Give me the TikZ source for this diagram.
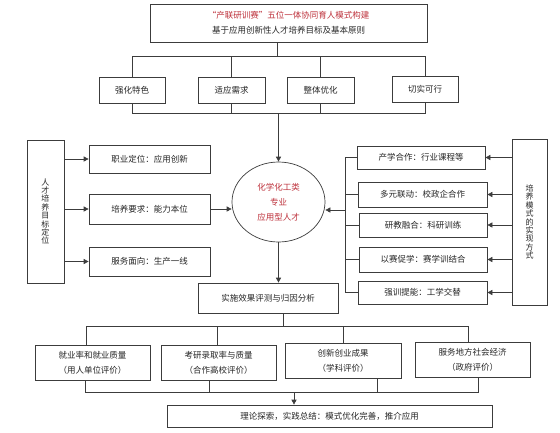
\documentclass[tikz,border=0pt]{standalone}
\usepackage{fontspec}
\setmainfont{Noto Sans CJK SC}
\usetikzlibrary{arrows.meta,shapes.geometric,calc}
\definecolor{ln}{RGB}{60,60,60}
\definecolor{redt}{RGB}{190,50,60}
\newcommand\myvtight{\lineskiplimit=-20pt\relax\lineskip=0pt\relax}
\begin{document}
\begin{tikzpicture}[x=1pt,y=-1pt,
  box/.style={draw=ln, line width=0.7pt, rectangle, inner sep=0pt, align=center, font=\fontsize{8.5}{15}\selectfont, text=black!85},
  vbox/.style={box, font=\fontsize{8}{8.4}\selectfont\myvtight},
  conn/.style={draw=ln, line width=0.7pt},
  arr/.style={conn, -{Triangle[length=5pt,width=5pt]}},
]
\useasboundingbox (0,0) rectangle (560,432);
\fill[white] (0,0) rectangle (560,432);

% top
\node[box, minimum width=277pt, minimum height=38pt] (top) at (288.5,23) {\textcolor{redt}{“产联研训赛”五位一体协同育人模式构建}\\基于应用创新性人才培养目标及基本原则};

% principles
\node[box, minimum width=66pt, minimum height=26pt] (p1) at (132,90) {强化特色};
\node[box, minimum width=67pt, minimum height=26pt] (p2) at (231.5,90) {适应需求};
\node[box, minimum width=67pt, minimum height=26pt] (p3) at (320.5,90) {整体优化};
\node[box, minimum width=66pt, minimum height=26pt] (p4) at (425,89) {切实可行};

\coordinate (s1) at (277,56);
\coordinate (s2) at (277,113);
\draw[conn] (top.south -| s1) -- (s1);
\draw[conn] (p1.north) -- (p1.north |- s1) -- (p4.north |- s1) -- (p4.north);
\draw[conn] (p2.north) -- (p2.north |- s1);
\draw[conn] (p3.north) -- (p3.north |- s1);
\draw[conn] (p1.south) -- (p1.south |- s2) -- (p4.south |- s2) -- (p4.south);
\draw[conn] (p2.south) -- (p2.south |- s2);
\draw[conn] (p3.south) -- (p3.south |- s2);

% ellipse
\node[draw=ln, line width=0.7pt, ellipse, minimum width=93pt, minimum height=80pt, inner sep=0pt, align=center, text=redt, font=\fontsize{8.5}{15}\selectfont] (ell) at (278.5,202) {化学化工类\\专业\\应用型人才};
\draw[arr] (ell.north |- s2) -- (ell.north);

% left
\node[vbox, minimum width=37pt, minimum height=143pt] (L) at (45.5,211.5) {人\\才\\培\\养\\目\\标\\定\\位};
\node[box, minimum width=121pt, minimum height=28pt] (l1) at (149.5,159) {职业定位：应用创新};
\node[box, minimum width=121pt, minimum height=30pt] (l2) at (149.5,209) {培养要求：能力本位};
\node[box, minimum width=121pt, minimum height=29pt] (l3) at (149.5,261.5) {服务面向：生产一线};
\draw[arr] (L.east |- l1.west) -- (l1.west);
\draw[arr] (L.east |- l2.west) -- (l2.west);
\draw[arr] (L.east |- l3.west) -- (l3.west);
\draw[arr] (l2.east) -- (l2.east -| ell.west);

% right
\node[vbox, minimum width=35pt, minimum height=166pt] (R) at (529.5,222) {培\\养\\模\\式\\的\\实\\现\\方\\式};
\node[box, minimum width=128pt, minimum height=23pt] (r1) at (421,157.5) {产学合作：行业课程等};
\node[box, minimum width=129pt, minimum height=25pt] (r2) at (422.5,194.5) {多元联动：校政企合作};
\node[box, minimum width=128pt, minimum height=24pt] (r3) at (423,225) {研教融合：科研训练};
\node[box, minimum width=128pt, minimum height=25pt] (r4) at (423,259.5) {以赛促学：赛学训结合};
\node[box, minimum width=129pt, minimum height=23pt] (r5) at (422.5,292.5) {强训提能：工学交替};
\draw[arr] (R.west |- r1.east) -- (r1.east);
\draw[arr] (R.west |- r2.east) -- (r2.east);
\draw[arr] (R.west |- r3.east) -- (r3.east);
\draw[arr] (R.west |- r4.east) -- (r4.east);
\draw[arr] (R.west |- r5.east) -- (r5.east);
\coordinate (brk) at (345,210);
\draw[conn] (r1.west) -- (r1.west -| brk) -- (r5.west -| brk) -- (r5.west);
\draw[conn] (r2.west) -- (r2.west -| brk);
\draw[conn] (r3.west) -- (r3.west -| brk);
\draw[conn] (r4.west) -- (r4.west -| brk);
\draw[arr] (brk) -- (brk -| ell.east);

% evaluation
\node[box, minimum width=140pt, minimum height=30pt] (ev) at (268,298) {实施效果评测与归因分析};
\draw[arr] (ell.south) -- (ell.south |- ev.north);

\node[box, minimum width=115pt, minimum height=35pt] (e1) at (92.5,362.5) {就业率和就业质量\\（用人单位评价）};
\node[box, minimum width=115pt, minimum height=35pt] (e2) at (218.5,362.5) {考研录取率与质量\\（合作高校评价）};
\node[box, minimum width=116pt, minimum height=35pt] (e3) at (343,360.5) {创新创业成果\\（学科评价）};
\node[box, minimum width=115pt, minimum height=35pt] (e4) at (472.5,359.5) {服务地方社会经济\\（政府评价）};

\coordinate (s3) at (283,326);
\draw[conn] (ev.south -| s3) -- (s3);
\coordinate (u1) at ($(e1.north)+(-6.5,0)$);
\coordinate (u2) at ($(e2.north)+(-1.5,0)$);
\coordinate (u3) at (e3.north);
\coordinate (u4) at ($(e4.north)+(-4.5,0)$);
\draw[conn] (u1) -- (u1 |- s3) -- (u4 |- s3) -- (u4);
\draw[conn] (u2) -- (u2 |- s3);
\draw[conn] (u3) -- (u3 |- s3);

\node[box, minimum width=325pt, minimum height=22pt] (fin) at (329.5,416) {理论探索，实践总结：模式优化完善，推介应用};
\coordinate (s4) at (294,392);
\coordinate (d1) at ($(e1.south)+(-7.5,0)$);
\coordinate (d2) at ($(e2.south)+(-9.5,0)$);
\coordinate (d3) at ($(e3.south)+(34,0)$);
\coordinate (d4) at ($(e4.south)+(5.5,0)$);
\draw[conn] (d1) -- (d1 |- s4) -- (d4 |- s4) -- (d4);
\draw[conn] (d2) -- (d2 |- s4);
\draw[conn] (d3) -- (d3 |- s4);
\draw[arr] (s4) -- (s4 |- fin.north);
\end{tikzpicture}
\end{document}
